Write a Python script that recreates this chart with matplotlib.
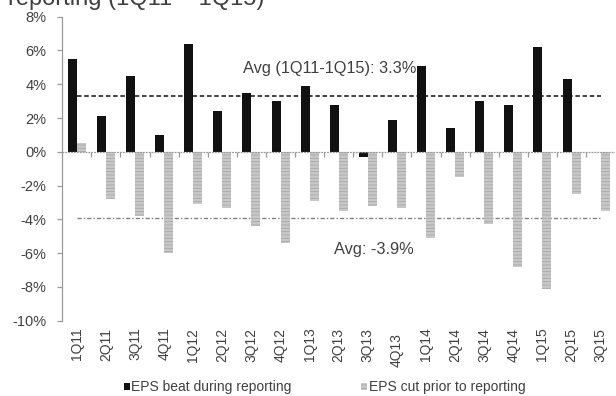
import numpy as np
import matplotlib as mpl
import matplotlib.pyplot as plt
import matplotlib.transforms as mtransforms
from matplotlib.patches import Patch


# -------------------------
# Data
# -------------------------

quarters = [
    "1Q11", "2Q11", "3Q11", "4Q11", "1Q12", "2Q12", "3Q12", "4Q12",
    "1Q13", "2Q13", "3Q13", "4Q13", "1Q14", "2Q14", "3Q14", "4Q14",
    "1Q15", "2Q15", "3Q15",
]

eps_beat = [5.5, 2.1, 4.5, 1.0, 6.4, 2.4, 3.5, 3.0, 3.9, 2.8,
            -0.3, 1.9, 5.1, 1.4, 3.0, 2.8, 6.2, 4.3, np.nan]

eps_cut = [0.5, -2.8, -3.8, -6.0, -3.1, -3.3, -4.4, -5.4, -2.9, -3.5,
           -3.2, -3.3, -5.1, -1.5, -4.3, -6.8, -8.1, -2.5, -3.5]

avg_beat = 3.3
avg_cut = -3.9

y_ticks = [8, 6, 4, 2, 0, -2, -4, -6, -8, -10]


# -------------------------
# Style
# -------------------------

mpl.rcParams["font.family"] = ["Liberation Sans", "DejaVu Sans"]
mpl.rcParams["hatch.linewidth"] = 0.6
TEXT = "#404040"
AXIS = "#9a9a9a"
BLACK = "#111111"
GREY = "#c8c8c8"


# -------------------------
# Plot
# -------------------------

fig = plt.figure(figsize=(6.16, 3.96), dpi=100)
ax = fig.add_axes([0.1011, 0.190, 0.8976, 0.7678])

x = np.arange(len(quarters))
w = 0.31

ax.bar(x - w / 2, eps_beat, width=w, color=BLACK, zorder=3)
ax.bar(x + w / 2, eps_cut, width=w, color=GREY, edgecolor="#a8a8a8",
       hatch="-----", linewidth=0, zorder=3)

# average lines, first to last category
ax.plot([x[0], x[-1]], [avg_beat, avg_beat], color="#333333", lw=1.3,
        linestyle=(0, (2.5, 1.5)), zorder=2)
ax.plot([x[0], x[-1]], [avg_cut, avg_cut], color="#808080", lw=1.0,
        linestyle=(0, (3, 1.5, 1, 1.5)), zorder=2)

ax.text(5.71, 4.95, "Avg (1Q11-1Q15): 3.3%", fontsize=11.8, color=TEXT,
        ha="left", va="center")
ax.text(8.84, -5.8, "Avg: -3.9%", fontsize=11.8, color=TEXT,
        ha="left", va="center")

# zero line with category boundary ticks
ax.axhline(0, color=AXIS, lw=0.9, linestyle=(0, (1.5, 0.8)), zorder=4)
ax.vlines(x[:-1] + 0.5, -0.28, 0, color=AXIS, lw=0.9, zorder=4)

ax.set_xlim(-0.5, len(quarters) - 0.5)
ax.set_ylim(-10, 8)
ax.set_yticks(y_ticks)
ax.set_yticklabels([f"{t}%" for t in y_ticks], fontsize=10.5, color=TEXT)
ax.set_xticks(x)
ax.set_xticklabels(quarters, rotation=90, fontsize=10, color=TEXT)
ax.tick_params(axis="x", length=0, pad=5)
ax.tick_params(axis="y", length=3.5, width=0.9, color=AXIS, pad=8)

# 4Q13 label sits a little lower
lbl = ax.get_xticklabels()[quarters.index("4Q13")]
lbl.set_transform(lbl.get_transform() +
                  mtransforms.ScaledTranslation(0, -5 / 100, fig.dpi_scale_trans))

for side in ["top", "right", "bottom"]:
    ax.spines[side].set_visible(False)
ax.spines["left"].set_color(AXIS)
ax.spines["left"].set_linewidth(0.9)

# heading, mostly above the top edge
fig.text(0.013, 0.988, "reporting (1Q11 \u2013 1Q15)", fontsize=17,
         color=TEXT, ha="left", va="baseline")

# -------------------------
# Legend
# -------------------------

handles = [
    Patch(facecolor=BLACK),
    Patch(facecolor=GREY, edgecolor="#a8a8a8", hatch="-----", linewidth=0),
]
fig.legend(handles, ["EPS beat during reporting", "EPS cut prior to reporting"],
           loc="center", bbox_to_anchor=(0.527, 0.022), ncol=2, frameon=False,
           fontsize=10, handlelength=0.45, handleheight=0.45,
           handletextpad=0.1, columnspacing=5.0, labelcolor=TEXT)

fig.savefig("out.png", dpi=100)
